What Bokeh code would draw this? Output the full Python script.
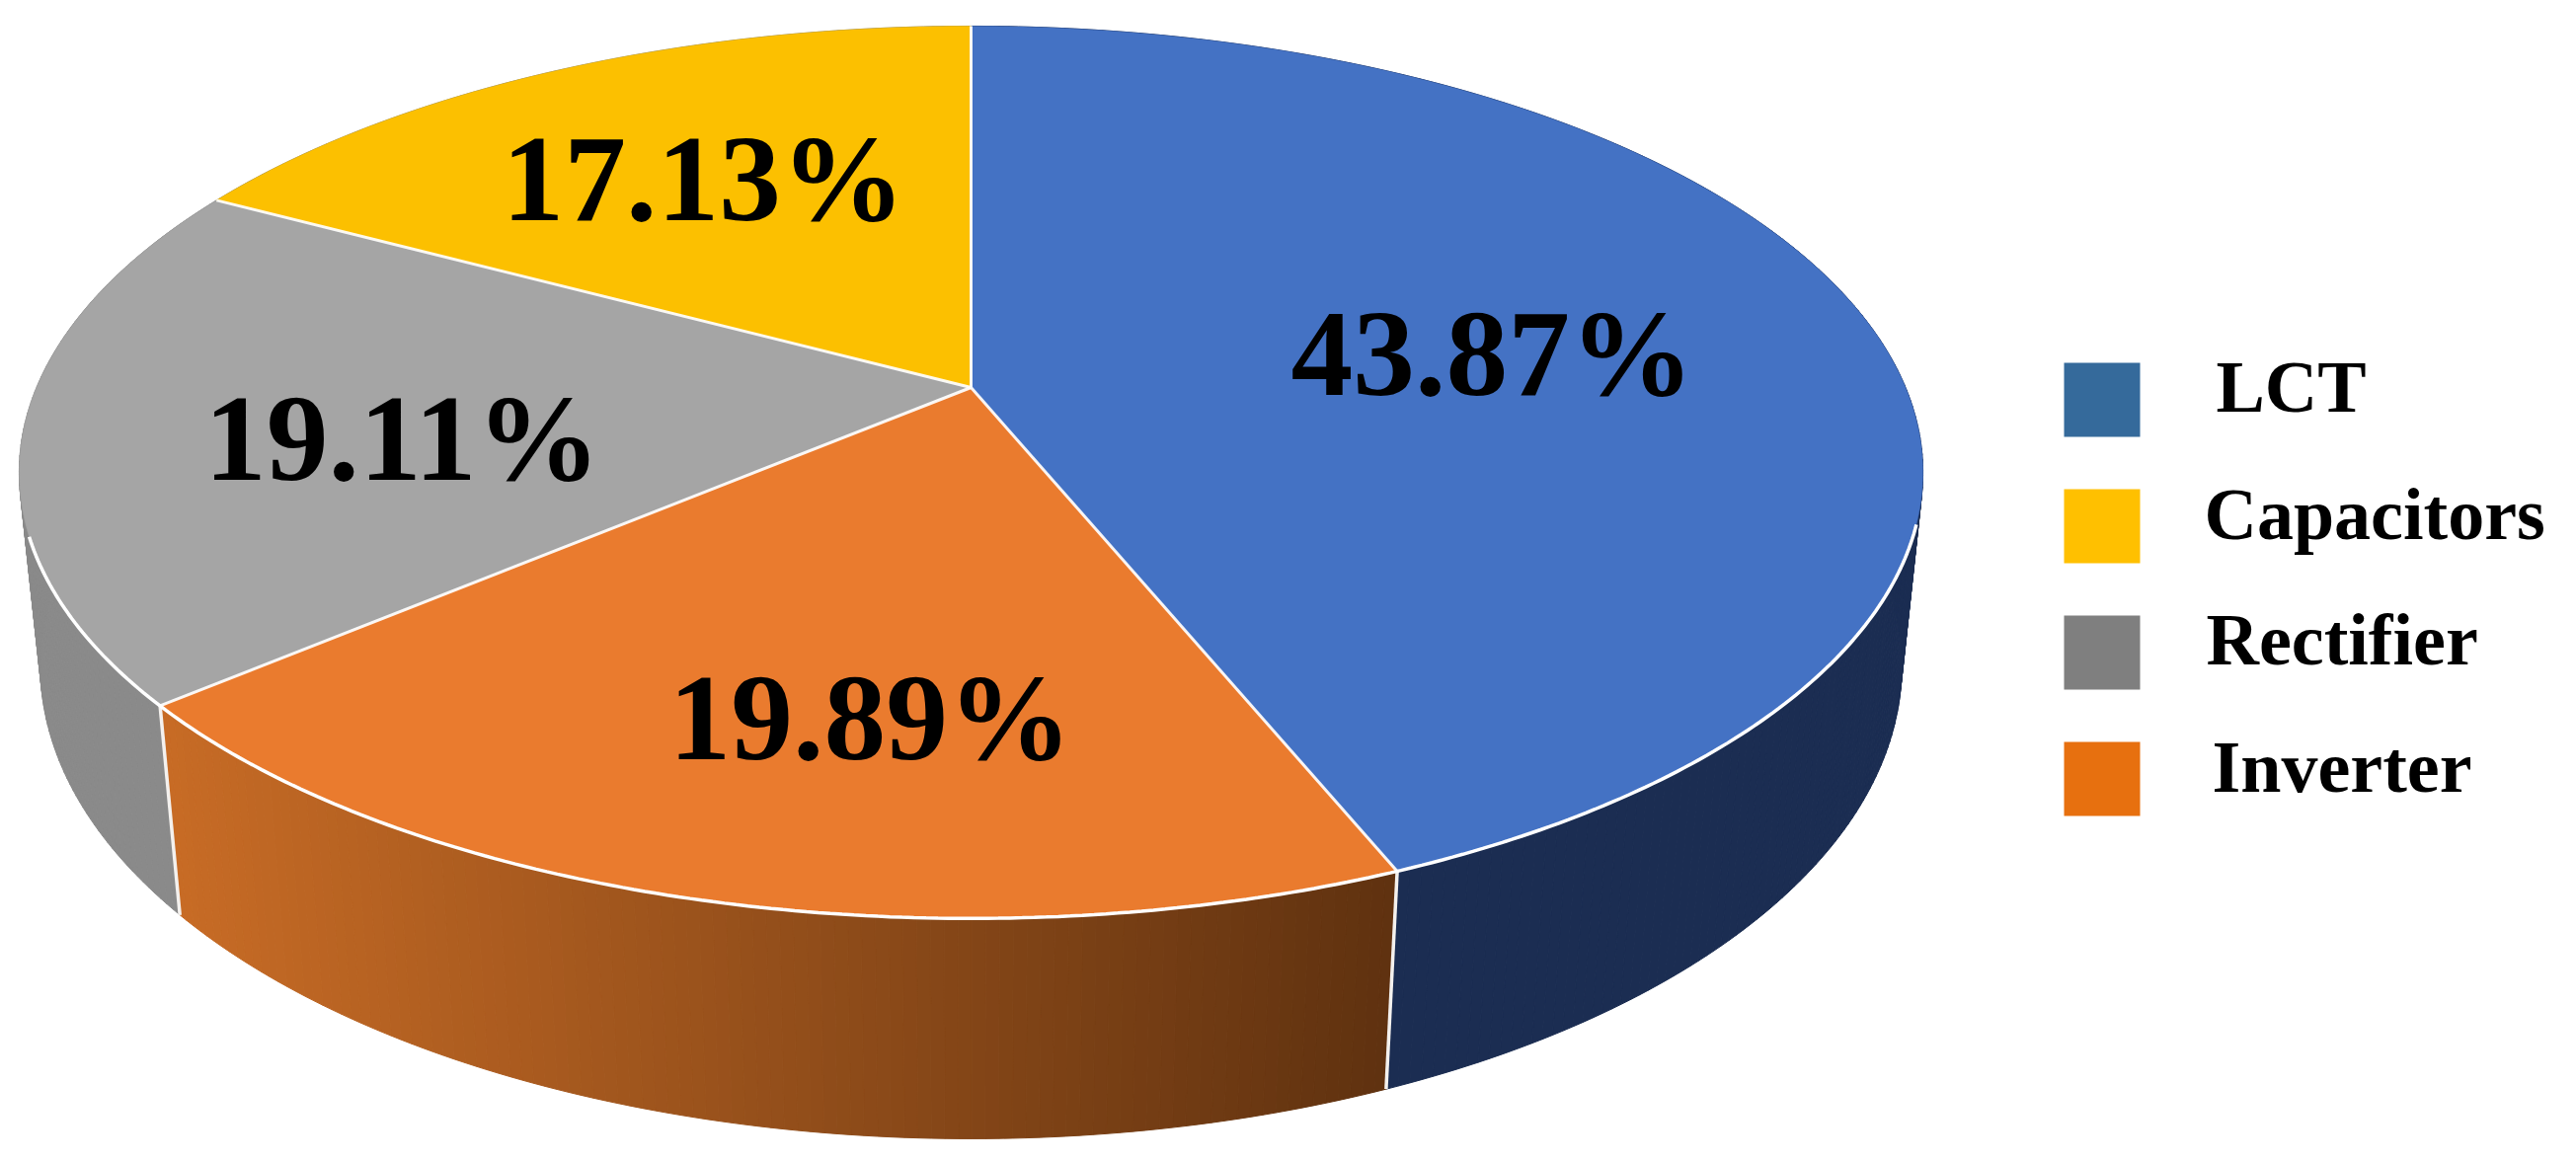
import math
from bokeh.plotting import figure
from bokeh.embed import file_html
from bokeh.resources import INLINE
from bokeh.core.properties import value

# data
slice_names = ["LCT", "Inverter", "Rectifier", "Capacitors"]
slice_values = [43.87, 19.89, 19.11, 17.13]

# legend
legend_names = ["LCT", "Capacitors", "Rectifier", "Inverter"]
legend_colors = ["#356A9B", "#FFC000", "#7F7F7F", "#E7700F"]
legend_text_x = [2244, 2232, 2234, 2240]
legend_text_y = [419, 548, 675, 804]
legend_box_top = [367, 495, 623, 751]

# styles
top_colors = ["#4472C4", "#EA7B2E", "#A5A5A5", "#FCC000"]
side_colors = ["#1B2D52", None, "#8A8A8A", "#8A8A8A"]
grad_from = (200, 108, 38)
grad_to = (96, 50, 16)

# labels (centre x, baseline y)
label_x = [1511, 881, 407, 712]
label_y = [404, 773, 490, 227]

# projection of the disc
X0, Y0, A, B, K = 983.0, 392.0, 946.5, 435.6, 0.19
DEPTH, M = 197.5, 0.022
RIM_FROM, RIM_TO = math.radians(107.5), math.radians(251.0)


def top(theta):
    u, v = math.sin(theta), math.cos(theta)
    w = 1 + K * v
    return X0 + A * u / w, Y0 - B * v / w


def bottom(theta):
    u, v = math.sin(theta), math.cos(theta)
    w = 1 + K * v + M
    return X0 + A * u / w, Y0 + (-B * v + DEPTH) / w


p = figure(width=2593, height=1161, x_range=(0, 2593), y_range=(1161, 0),
           output_backend="svg", toolbar_location=None, min_border=0)
p.axis.visible = False
p.grid.visible = False
p.outline_line_color = None
p.background_fill_color = "white"
p.border_fill_color = "white"

total = sum(slice_values)
cuts = [0.0]
for val in slice_values:
    cuts.append(cuts[-1] + val / total * 2 * math.pi)


def steps(a, b, n):
    return [a + (b - a) * i / n for i in range(n + 1)]


# side wall: narrow strips so that the silhouette runs straight from rim to rim
sx, sy, sc = [], [], []
for i in range(4):
    n = max(4, int((cuts[i + 1] - cuts[i]) / 0.012))
    th = steps(cuts[i], cuts[i + 1], n)
    xl, xr = top(cuts[i + 1])[0], top(cuts[i])[0]
    for a, b in zip(th[:-1], th[1:]):
        q = [top(a), top(b), bottom(b), bottom(a)]
        sx.append([c[0] for c in q])
        sy.append([c[1] for c in q])
        if side_colors[i] is not None:
            sc.append(side_colors[i])
        else:
            f = min(1, max(0, ((q[0][0] + q[1][0]) / 2 - xl) / (xr - xl)))
            sc.append("#%02X%02X%02X" % tuple(int(grad_from[j] + (grad_to[j] - grad_from[j]) * f) for j in range(3)))
p.patches(sx, sy, fill_color=sc, line_color=sc, line_width=1)

# white joints on the wall
for t in [cuts[1], cuts[2]]:
    a, b = top(t), bottom(t)
    p.line([a[0], b[0]], [a[1], b[1]], line_color="#F4F1EE", line_width=3.5)

# top face
tx, ty = [], []
for i in range(4):
    n = max(8, int((cuts[i + 1] - cuts[i]) / 0.006))
    th = steps(cuts[i], cuts[i + 1], n)
    tp = [top(t) for t in th]
    tx.append([X0] + [q[0] for q in tp])
    ty.append([Y0] + [q[1] for q in tp])
p.patches(tx, ty, fill_color=top_colors, line_color=top_colors, line_width=0.5)

# white lines: the radii and the front part of the rim
for t in cuts[:-1]:
    a = top(t)
    p.line([X0, a[0]], [Y0, a[1]], line_color="white", line_width=3, line_alpha=0.92)
rim = [top(t) for t in steps(RIM_FROM, RIM_TO, 240)]
p.line([q[0] for q in rim], [q[1] for q in rim], line_color="white", line_width=3.5)

# percent labels
p.text(label_x, label_y, text=[f"{v:.2f}%" for v in slice_values],
       text_font=value("Liberation Serif"), text_font_style="bold",
       text_font_size=value("125.5px"), text_color="black",
       text_align="center", text_baseline="alphabetic", y_offset=-47)

# legend
p.quad(left=[2090] * 4, right=[2167] * 4, top=legend_box_top,
       bottom=[t + 75 for t in legend_box_top], fill_color=legend_colors, line_color=None)
p.text(legend_text_x, legend_text_y, text=legend_names,
       text_font=value("Liberation Serif"), text_font_style="bold",
       text_font_size=value("74px"), text_color="black",
       text_align="left", text_baseline="alphabetic", y_offset=-28)

open("out.html", "w").write(file_html(p, INLINE))
